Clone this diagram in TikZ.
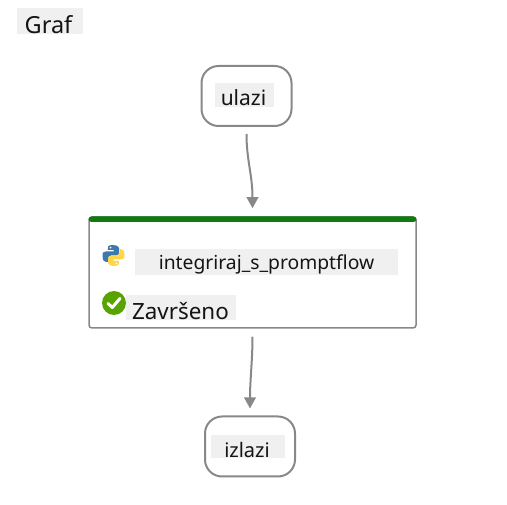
\documentclass[tikz,border=0pt]{standalone}
\usepackage{fontspec}
\setmainfont{Noto Sans}
\usetikzlibrary{arrows.meta}
\definecolor{edgegray}{HTML}{888888}
\definecolor{labelgray}{HTML}{F0F0F0}
\definecolor{bargreen}{HTML}{107C10}
\definecolor{checkgreen}{HTML}{57A300}
\definecolor{pyblue}{HTML}{3C79AE}
\definecolor{pyyellow}{HTML}{FFD647}
\tikzset{
  x=1pt,y=-1pt,
  io/.style={draw=edgegray,line width=2pt,rounded corners=17pt,fill=white,minimum width=90pt,minimum height=60pt,inner sep=0pt},
  main/.style={draw=edgegray,line width=1.5pt,rounded corners=3pt,fill=white,minimum width=327pt,minimum height=111pt,inner sep=0pt},
  lab/.style={fill=labelgray,inner sep=0pt},
  txt/.style={anchor=base,inner sep=0pt,text=black!92},
  conn/.style={draw=edgegray,line width=2pt,-{Triangle[length=11pt,width=11.5pt]}},
}
\begin{document}
\begin{tikzpicture}
\useasboundingbox (0,0) rectangle (507,505);
% title
\node[lab,minimum width=66pt,minimum height=26pt] (graflab) at (50,21) {};
\node[txt,font=\fontsize{23.5}{26}\selectfont] (graf) at (48.5,34) {Graf};
% nodes
\node[io] (ulazi) at (246.5,96) {};
\node[main] (flow) at (252.5,272.5) {};
\node[io] (izlazi) at (250,446.5) {};
% green top bar
\fill[bargreen,rounded corners=3pt] (88.5,222) -- (88.5,216.5) -- (416.5,216.5) -- (416.5,222) -- cycle;
% labels
\node[lab,minimum width=59pt,minimum height=24pt] (ulazilab) at (244.5,95) {};
\node[txt,font=\fontsize{21}{24}\selectfont] (ulazit) at (243.5,106) {ulazi};
\node[lab,minimum width=263pt,minimum height=26pt] (pflab) at (266.5,262) {};
\node[txt,font=\fontsize{19.3}{22}\selectfont] (pft) at (266.5,270) {integriraj\_s\_promptflow};
\node[lab,minimum width=110pt,minimum height=25pt] (donelab) at (181,307.5) {};
\node[txt,font=\fontsize{22.4}{24}\selectfont] (donet) at (180.5,320) {Završeno};
\node[lab,minimum width=74pt,minimum height=23pt] (izlazilab) at (248,446.5) {};
\node[txt,font=\fontsize{20}{22}\selectfont] (izlazit) at (247,458) {izlazi};
% python logo
\fill[pyblue] (113,245) .. controls (107,245) and (108,247) .. (108,250) -- (113.5,250) -- (113.5,251.5) -- (106,251.5) .. controls (102,251.5) and (102.5,255) .. (102.5,256) .. controls (102.5,259) and (103,262) .. (106,262) -- (108,262) -- (108,258.5) .. controls (108,256.5) and (110,255.5) .. (111,255.5) -- (116,255.5) .. controls (118,255.5) and (119,254) .. (119,253) -- (119,248) .. controls (119,246) and (116,245) .. (113,245) -- cycle;
\fill[pyyellow] (113.5,266) .. controls (119.5,266) and (119,264) .. (119,261) -- (113.5,261) -- (113.5,259.5) -- (121,259.5) .. controls (125,259.5) and (124.5,256) .. (124.5,255) .. controls (124.5,252) and (124,249) .. (121,249) -- (119.5,249) -- (119.5,252.5) .. controls (119.5,254.5) and (117.5,256) .. (116,256) -- (111,256) .. controls (109,256) and (108,257) .. (108,258.5) -- (108,263) .. controls (108,265) and (111,266) .. (113.5,266) -- cycle;
\fill[white] (110.5,247.7) circle (1pt) (116.5,263.3) circle (1pt);
% check badge
\fill[checkgreen] (114,303) circle (12pt);
\draw[white,line width=3pt,line cap=round,line join=round] (108,303.5) -- (112.3,307.5) -- (120,298.5);
% connectors
\draw[conn,shorten <=7pt,shorten >=8pt] (ulazi.south) .. controls (246.5,160) and (252.5,175) .. (flow.north);
\draw[conn,shorten <=8pt,shorten >=7pt] (flow.south) .. controls (252.5,360) and (250,380) .. (izlazi.north);
\end{tikzpicture}
\end{document}
